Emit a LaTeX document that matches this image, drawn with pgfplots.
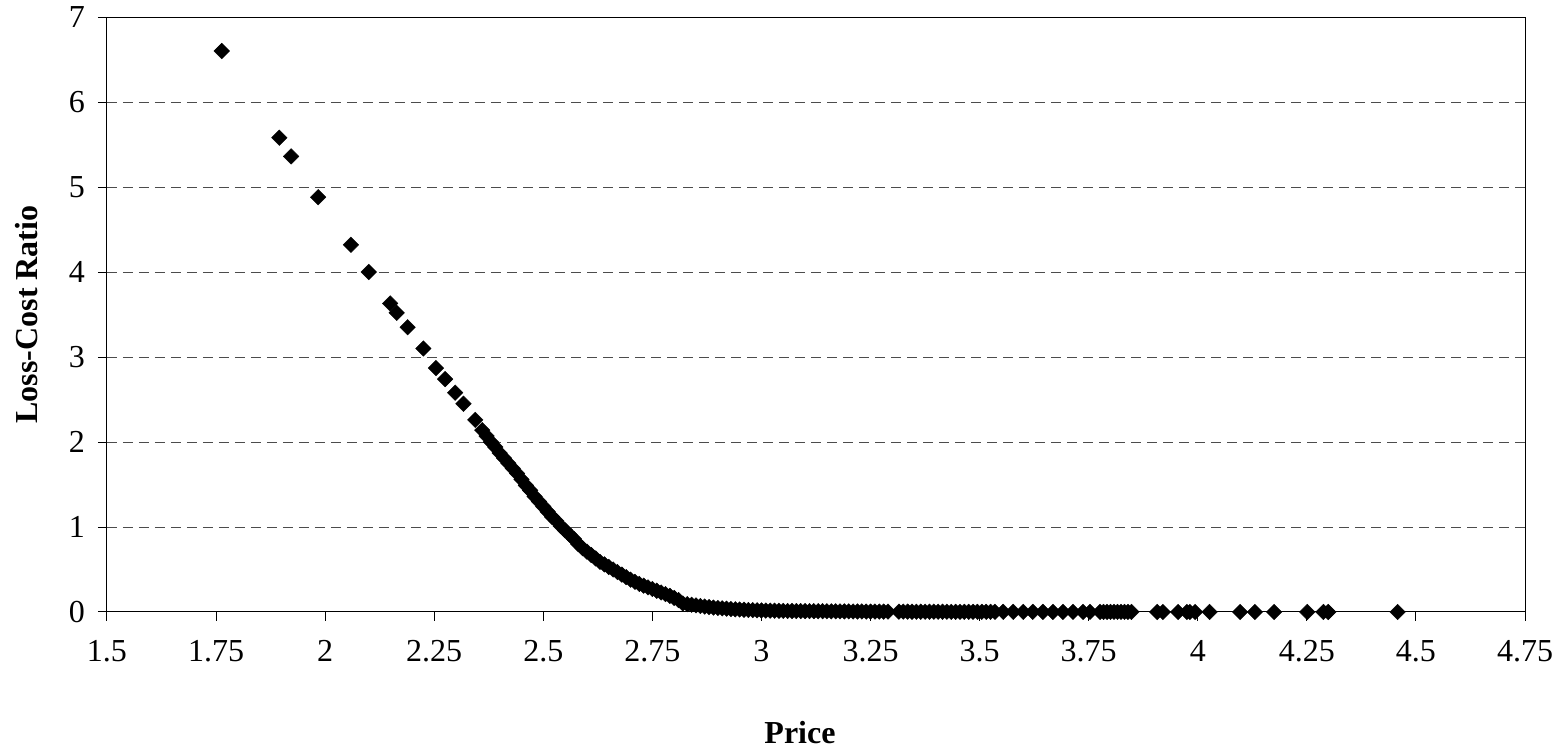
\documentclass[border=0pt]{standalone}
\usepackage{fontspec}
\setmainfont{Liberation Serif}
\usepackage{pgfplots}
\pgfplotsset{compat=1.18}
\begin{document}
\begin{tikzpicture}
\useasboundingbox (-53.5pt,-71.5pt) rectangle (726.5pt,306pt);
\begin{axis}[
  scale only axis, width=709pt, height=297.5pt,
  xmin=1.5, xmax=4.75, ymin=0, ymax=7,
  xtick={1.5,1.75,2,2.25,2.5,2.75,3,3.25,3.5,3.75,4,4.25,4.5,4.75},
  ytick={0,1,2,3,4,5,6,7},
  tick align=outside, tick pos=left, major tick length=4.5pt,
  tick style={black, line width=0.5pt},
  axis line style={black, line width=0.5pt},
  ymajorgrids,
  grid style={black!70, line width=0.5pt, dash pattern=on 5pt off 3pt},
  /pgf/number format/assume math mode=true,
  ticklabel style={font=\fontsize{16}{19}\selectfont},
  xticklabel style={yshift=-6pt},
  yticklabel style={xshift=-3pt},
  xlabel={Price}, ylabel={Loss-Cost Ratio},
  label style={font=\fontsize{16}{19}\selectfont\bfseries},
  xlabel style={at={(axis description cs:0.4887,-0.2034)}, anchor=center},
  ylabel style={at={(axis description cs:-0.0564,0.5)}, anchor=center},
  clip=false,
]
\addplot[only marks, mark=square*, mark size=2.75pt,
  mark options={rotate=45, fill=black, draw=black, line width=0.2pt}] table {
x y
1.763 6.60
1.895 5.58
1.922 5.36
1.984 4.88
2.059 4.32
2.100 4.00
2.149 3.63
2.164 3.52
2.189 3.35
2.225 3.10
2.254 2.87
2.275 2.74
2.298 2.58
2.317 2.45
2.344 2.26
2.36 2.14
2.37 2.07
2.38 2.00
2.39 1.94
2.40 1.87
2.41 1.81
2.42 1.75
2.43 1.69
2.44 1.63
2.45 1.56
2.46 1.49
2.47 1.43
2.48 1.36
2.49 1.30
2.50 1.24
2.51 1.18
2.52 1.12
2.53 1.07
2.54 1.01
2.55 0.96
2.56 0.91
2.57 0.86
2.58 0.80
2.59 0.75
2.60 0.71
2.61 0.67
2.62 0.63
2.63 0.59
2.64 0.56
2.65 0.53
2.66 0.50
2.67 0.47
2.68 0.44
2.69 0.41
2.70 0.38
2.71 0.355
2.72 0.33
2.73 0.31
2.74 0.29
2.75 0.27
2.76 0.25
2.77 0.23
2.78 0.21
2.79 0.19
2.80 0.165
2.81 0.14
2.82 0.10
2.83 0.092
2.84 0.085
2.85 0.078
2.86 0.071
2.87 0.064
2.88 0.058
2.89 0.052
2.90 0.047
2.91 0.043
2.92 0.039
2.93 0.035
2.94 0.032
2.95 0.029
2.96 0.026
2.97 0.024
2.98 0.022
2.99 0.020
3.00 0.018
3.01 0.017
3.02 0.016
3.03 0.015
3.04 0.014
3.05 0.013
3.06 0.012
3.07 0.012
3.08 0.011
3.09 0.011
3.10 0.010
3.11 0.010
3.12 0.010
3.13 0.009
3.14 0.009
3.15 0.009
3.16 0.008
3.17 0.008
3.18 0.008
3.19 0.007
3.20 0.007
3.21 0.006
3.22 0.006
3.23 0.006
3.24 0.005
3.25 0.005
3.26 0.005
3.27 0.005
3.28 0.004
3.29 0.004
3.315 0.004
3.325 0.004
3.335 0.004
3.345 0.003
3.355 0.003
3.365 0.003
3.375 0.003
3.385 0.003
3.395 0.003
3.405 0.003
3.415 0.003
3.425 0.003
3.435 0.002
3.445 0.002
3.455 0.002
3.465 0.002
3.475 0.002
3.485 0.002
3.495 0.002
3.505 0.002
3.515 0.002
3.525 0.002
3.535 0.002
3.554 0.002
3.577 0.002
3.600 0.002
3.622 0.002
3.645 0.001
3.668 0.001
3.691 0.001
3.714 0.001
3.737 0.001
3.753 0.001
3.776 0.001
3.784 0.001
3.792 0.001
3.800 0.001
3.808 0.001
3.816 0.001
3.824 0.001
3.832 0.001
3.840 0.001
3.848 0.001
3.907 0
3.920 0
3.955 0
3.975 0
3.982 0
3.994 0
4.027 0
4.097 0
4.131 0
4.175 0
4.251 0
4.288 0
4.299 0
4.458 0
};
\end{axis}
\end{tikzpicture}
\end{document}
